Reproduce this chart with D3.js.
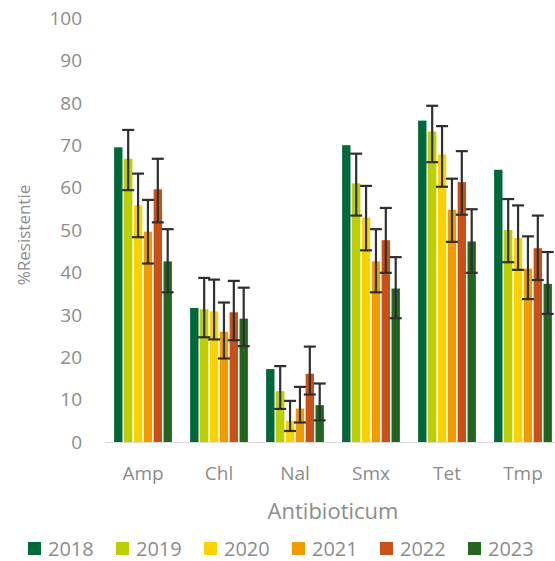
<!DOCTYPE html>
<html><head><meta charset="utf-8">
<script src="https://cdn.jsdelivr.net/npm/d3@7"></script>
<style>body{margin:0;background:#fff;overflow:hidden}svg{display:block}text{font-family:"Open Sans","Noto Sans",sans-serif}</style>
</head><body><svg id="c" width="555" height="561"></svg>
<script>
const categories = ["Amp","Chl","Nal","Smx","Tet","Tmp"];
const years = ["2018","2019","2020","2021","2022","2023"];
const colors = ["#00693A","#BDCF00","#FAD200","#F09C00","#C8511A","#23661F"];
const v2018 = [69.5,31.6,17.2,70.0,75.8,64.2];
const v2019 = [66.8,31.3,12.0,61.0,73.2,50.0];
const v2020 = [55.8,30.8,5.0,52.9,67.8,48.1];
const v2021 = [49.6,26.0,7.9,42.6,54.8,40.9];
const v2022 = [59.6,30.6,16.1,47.6,61.3,45.7];
const v2023 = [42.6,29.1,8.7,36.2,47.3,37.3];
const lo2019 = [59.4,24.7,7.8,53.4,66.0,42.4];
const hi2019 = [73.6,38.7,17.9,68.0,79.3,57.3];
const lo2020 = [48.3,24.2,2.6,45.2,60.2,40.6];
const hi2020 = [63.3,38.3,9.7,60.4,74.5,55.8];
const lo2021 = [42.1,19.7,4.6,35.3,47.2,33.7];
const hi2021 = [57.1,32.9,13.0,50.2,62.1,48.5];
const lo2022 = [51.8,24.0,11.2,39.9,53.6,38.2];
const hi2022 = [66.8,38.0,22.5,55.2,68.6,53.4];
const lo2023 = [35.3,22.6,5.1,29.2,39.9,30.2];
const hi2023 = [50.2,36.4,13.8,43.6,54.9,44.8];
const yTicks = [0,10,20,30,40,50,60,70,80,90,100];

const values = [v2018,v2019,v2020,v2021,v2022,v2023];
const lows = [null,lo2019,lo2020,lo2021,lo2022,lo2023];
const highs = [null,hi2019,hi2020,hi2021,hi2022,hi2023];

const svg = d3.select("#c");
const y = d3.scaleLinear().domain([0,100]).range([442,18]);
const x0 = d3.scaleBand().domain(categories).range([105,561]).paddingInner(0.22).paddingOuter(0.11);
const x1 = d3.scaleBand().domain(years).range([0,x0.bandwidth()]);
const gray = "#8C8C8C";

// y tick labels
svg.append("g").selectAll("text").data(yTicks).join("text")
  .attr("x",82).attr("y",d=>y(d)).attr("dy","0.36em").attr("text-anchor","end")
  .attr("font-size",19).attr("fill",gray).text(d=>d);

// axis line
svg.append("line").attr("x1",105).attr("x2",561).attr("y1",y(0)+0.5).attr("y2",y(0)+0.5)
  .attr("stroke","#D9D9D9").attr("stroke-width",1);

// bars
const data = [];
categories.forEach((c,ci)=>years.forEach((yr,yi)=>data.push({c,yr,yi,v:values[yi][ci],
  lo: lows[yi]?lows[yi][ci]:null, hi: highs[yi]?highs[yi][ci]:null})));
const bw = x1.bandwidth();
svg.append("g").selectAll("rect").data(data).join("rect")
  .attr("x",d=>x0(d.c)+x1(d.yr)+0.75).attr("width",bw-1.5)
  .attr("y",d=>y(d.v)).attr("height",d=>y(0)-y(d.v))
  .attr("fill",d=>colors[d.yi]);

// error bars
const eb = svg.append("g").attr("stroke","#2F2F2F").attr("stroke-width",2.2);
data.filter(d=>d.lo!==null).forEach(d=>{
  const cx = x0(d.c)+x1(d.yr)+bw/2;
  eb.append("line").attr("x1",cx).attr("x2",cx).attr("y1",y(d.hi)).attr("y2",y(d.lo));
  eb.append("line").attr("x1",cx-6).attr("x2",cx+6).attr("y1",y(d.hi)).attr("y2",y(d.hi));
  eb.append("line").attr("x1",cx-6).attr("x2",cx+6).attr("y1",y(d.lo)).attr("y2",y(d.lo));
});

// category labels
svg.append("g").selectAll("text").data(categories).join("text")
  .attr("x",d=>x0(d)+x0.bandwidth()/2).attr("y",480)
  .attr("text-anchor","middle").attr("font-size",19).attr("fill",gray).text(d=>d);

// axis titles
svg.append("text").attr("x",333).attr("y",519).attr("text-anchor","middle")
  .attr("font-size",22).attr("fill",gray).text("Antibioticum");
svg.append("text").attr("transform","translate(30,235) rotate(-90)").attr("text-anchor","middle")
  .attr("font-size",17).attr("fill",gray).text("%Resistentie");

// legend
const lg = svg.append("g").selectAll("g").data(years).join("g")
  .attr("transform",(d,i)=>`translate(${28+i*88},542)`);
lg.append("rect").attr("width",13).attr("height",13).attr("fill",(d,i)=>colors[i]);
lg.append("text").attr("x",20).attr("y",6.5).attr("dy","0.36em").attr("font-size",20)
  .attr("fill",gray).text(d=>d);
</script></body></html>
